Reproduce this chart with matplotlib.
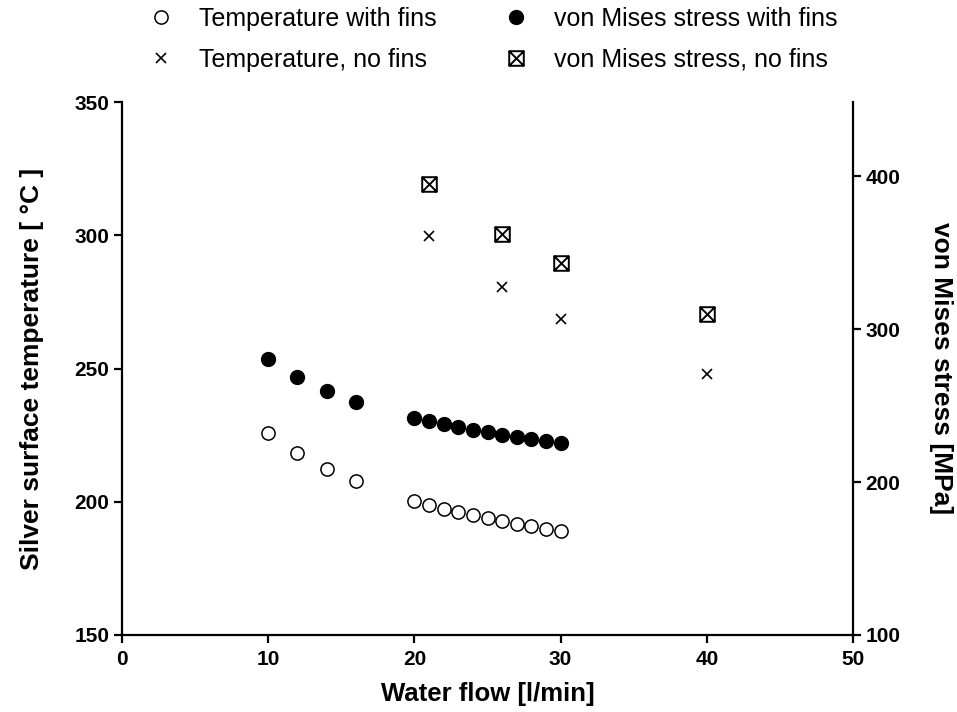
import matplotlib
matplotlib.use("Agg")
import matplotlib.pyplot as plt
from matplotlib.path import Path

plt.rcParams['font.family'] = ['Liberation Sans', 'DejaVu Sans']

# water flow [l/min]
flow_fins = [10, 12, 14, 16, 20, 21, 22, 23, 24, 25, 26, 27, 28, 29, 30]
flow_nofins = [21, 26, 30, 40]

# silver surface temperature [deg C]
temp_fins = [225.9, 218.2, 212.3, 207.7, 200.3, 198.8, 197.3, 196.2, 195.0,
             193.8, 192.8, 191.8, 190.9, 189.8, 189.0]
temp_nofins = [299.7, 280.5, 268.7, 248.0]

# von Mises stress [MPa]
stress_fins = [280.4, 268.8, 259.7, 252.5, 241.6, 239.9, 237.7, 235.8, 234.0,
               232.5, 230.9, 229.2, 227.9, 226.8, 225.3]
stress_nofins = [394.8, 362.1, 342.9, 309.8]

# square with a cross inside
box_x = Path([(-1, -1), (1, -1), (1, 1), (-1, 1), (-1, -1),
              (-1, -1), (1, 1), (-1, 1), (1, -1)],
             [Path.MOVETO, Path.LINETO, Path.LINETO, Path.LINETO, Path.CLOSEPOLY,
              Path.MOVETO, Path.LINETO, Path.MOVETO, Path.LINETO])

fig = plt.figure(figsize=(9.57, 7.12), dpi=100)
ax = fig.add_axes([122 / 957, 1 - 635 / 712, (853 - 122) / 957, (635 - 102) / 712])
ax2 = ax.twinx()

h1, = ax.plot(flow_fins, temp_fins, 'o', ms=9.5, mfc='white', mec='black', mew=1.1,
              label='Temperature with fins')
h2, = ax.plot(flow_nofins, temp_nofins, 'x', ms=7, mec='black', mew=1.2,
              label='Temperature, no fins')
h3, = ax2.plot(flow_fins, stress_fins, 'o', ms=10, mfc='black', mec='black',
               label='von Mises stress with fins')
h4, = ax2.plot(flow_nofins, stress_nofins, marker=box_x, ls='none', ms=10.5,
               mfc='none', mec='black', mew=1.4, label='von Mises stress, no fins')

ax.set_xlim(0, 50)
ax.set_ylim(150, 350)
ax2.set_ylim(100, 448.4)
ax.set_xticks(range(0, 51, 10))
ax.set_yticks(range(150, 351, 50))
ax2.set_yticks(range(100, 401, 100))

for a in (ax, ax2):
    a.spines['top'].set_visible(False)
    for s in a.spines.values():
        s.set_linewidth(1.6)
    a.tick_params(width=1.6, length=6, labelsize=15, pad=3)
    for lab in a.get_xticklabels() + a.get_yticklabels():
        lab.set_fontweight('bold')
ax.tick_params(axis='x', pad=5)
ax.spines['right'].set_visible(False)
ax2.spines['left'].set_visible(False)
ax2.spines['bottom'].set_visible(False)

ax.set_xlabel('Water flow [l/min]', fontsize=18.5, fontweight='bold', labelpad=9)
ax.set_ylabel('Silver surface temperature [ \u00b0C ]', fontsize=19,
              fontweight='bold', labelpad=22)
ax2.set_ylabel('von Mises stress [MPa]', fontsize=19, fontweight='bold',
               rotation=270, labelpad=38)

fig.legend(handles=[h1, h2, h3, h4], ncol=2, frameon=False, fontsize=18,
           loc='upper left', bbox_to_anchor=(143 / 957, 1 - 2 / 712),
           handlelength=1.0, handletextpad=1.05, columnspacing=2.65,
           labelspacing=0.68, borderaxespad=0.0, borderpad=0.2)

fig.savefig('out.png', dpi=100)
